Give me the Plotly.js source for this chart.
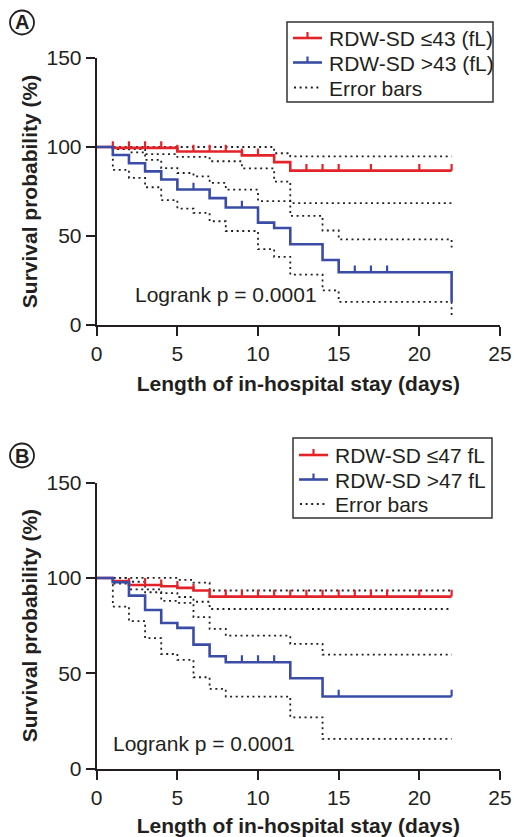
<!DOCTYPE html>
<html>
<head>
<meta charset="utf-8">
<script src="https://cdn.plot.ly/plotly-3.0.1.min.js"></script>
<style>html,body{margin:0;padding:0;background:#fff;}#chart{width:514px;height:837px;}</style>
</head>
<body>
<div id="chart"></div>
<script>
// ---------- Panel A data (RDW-SD cut-off 43 fL) ----------
const daysA_low = [0, 1, 5, 9, 11, 12, 22];
const survA_low = [100, 99.5, 97.5, 95.3, 91.5, 86.7, 86.7];
const censA_low = [1, 2, 3, 4, 5, 6, 7, 8, 9, 10, 13, 14, 15, 17, 20, 22];

const daysA_high = [0, 1, 2, 3, 4, 5, 7, 8, 10, 11, 12, 14, 15, 22];
const survA_high = [100, 95.5, 90.9, 86.3, 81.7, 76.1, 71.3, 66, 57.5, 54.5, 45.4, 36.5, 29.6, 13];
const censA_high = [6, 9, 16, 17, 18];

const ciA_low_up_days = [0, 11, 12, 22];
const ciA_low_up = [100, 96.5, 94.7, 94.7];
const ciA_low_lo_days = [0, 1, 3, 5, 7, 9, 11, 12, 22];
const ciA_low_lo = [100, 98.8, 96, 94.4, 92, 88, 80.6, 68.5, 68.5];
const ciA_high_up_days = [0, 1, 2, 3, 4, 5, 6, 7, 8, 10, 12, 14, 15, 22];
const ciA_high_up = [100, 99, 97, 92.8, 88.1, 85.4, 83.5, 79.8, 76, 69.6, 61.3, 53.1, 48.1, 43.5];
const ciA_high_lo_days = [0, 1, 2, 3, 4, 5, 6, 7, 8, 10, 11, 12, 14, 15, 22];
const ciA_high_lo = [100, 87.2, 82.6, 77.4, 70.2, 65.4, 63, 58.3, 52.8, 42.6, 38.3, 28.3, 19.4, 13, 3.7];

// ---------- Panel B data (RDW-SD cut-off 47 fL) ----------
const daysB_low = [0, 1, 2, 4, 5, 6, 7, 22];
const survB_low = [100, 98.3, 96.3, 95.6, 94.8, 93.4, 90.2, 90.2];
const censB_low = [2, 3, 4, 5, 6, 8, 9, 10, 11, 12, 13, 14, 15, 16, 17, 18, 20, 22];

const daysB_high = [0, 1, 2, 3, 4, 5, 6, 7, 8, 12, 14, 22];
const survB_high = [100, 97.7, 90.7, 83.2, 76.4, 73.8, 65, 58.9, 55.8, 47.4, 37.8, 37.8];
const censB_high = [9, 10, 11, 15, 22];

const ciB_low_up_days = [0, 5, 6, 7, 22];
const ciB_low_up = [100, 99, 97.5, 93.4, 93.4];
const ciB_low_lo_days = [0, 1, 2, 4, 5, 6, 7, 22];
const ciB_low_lo = [100, 97, 94, 92, 90, 87.5, 83.7, 83.7];
const ciB_high_up_days = [0, 2, 3, 4, 5, 6, 7, 8, 12, 14, 22];
const ciB_high_up = [100, 98, 92.5, 88, 86.9, 79.4, 73.3, 69.7, 65.4, 59.8, 59.8];
const ciB_high_lo_days = [0, 1, 2, 3, 4, 5, 6, 7, 8, 12, 14, 22];
const ciB_high_lo = [100, 85, 77.3, 68.4, 60.1, 57, 47.9, 41.8, 37.8, 26.9, 15.6, 15.6];

// ---------- Labels ----------
const legendA = ['RDW-SD ≤43 (fL)', 'RDW-SD >43 (fL)', 'Error bars'];
const legendB = ['RDW-SD ≤47 fL', 'RDW-SD >47 fL', 'Error bars'];
const logrankText = 'Logrank p = 0.0001';
const xTitle = 'Length of in-hospital stay (days)';
const yTitle = 'Survival probability (%)';
const xTicks = [0, 5, 10, 15, 20, 25];
const yTicks = [0, 50, 100, 150];

// ---------- Styles ----------
const RED = '#e3232a';
const BLUE = '#3a4ca6';
const INK = '#231f20';
const FONT = 'Arial, "Liberation Sans", Helvetica, sans-serif';
const FS = 21;
const DOT = '2px,3.6px';
const W = 514, H = 837;
const px = v => v / W;
const py = v => 1 - v / H;

function valueAt(days, vals, t) {
  let v = vals[0];
  for (let i = 0; i < days.length; i++) if (days[i] <= t) v = vals[i];
  return v;
}
function censorSegs(times, days, vals, h) {
  const x = [], y = [];
  times.forEach(t => { const v = valueAt(days, vals, t); x.push(t, t, null); y.push(v, v + h, null); });
  return {x, y};
}

const traces = [];
function addPanel(xa, ya, d) {
  d.ci.forEach(c => traces.push({
    type: 'scatter', mode: 'lines', x: c[0], y: c[1], xaxis: xa, yaxis: ya,
    line: {shape: 'hv', color: INK, width: 1.8, dash: DOT}, showlegend: false, hoverinfo: 'skip'
  }));
  [[d.low, RED], [d.high, BLUE]].forEach(([s, col]) => {
    traces.push({
      type: 'scatter', mode: 'lines', x: s[0], y: s[1], xaxis: xa, yaxis: ya,
      line: {shape: 'hv', color: col, width: 2.6}, showlegend: false
    });
    const seg = censorSegs(s[2], s[0], s[1], d.tick);
    traces.push({
      type: 'scatter', mode: 'lines', x: seg.x, y: seg.y, xaxis: xa, yaxis: ya,
      line: {color: col, width: 2.2}, showlegend: false, hoverinfo: 'skip'
    });
  });
}
addPanel('x', 'y', {
  low: [daysA_low, survA_low, censA_low], high: [daysA_high, survA_high, censA_high], tick: 3.8,
  ci: [[ciA_low_up_days, ciA_low_up], [ciA_low_lo_days, ciA_low_lo], [ciA_high_up_days, ciA_high_up], [ciA_high_lo_days, ciA_high_lo]]
});
addPanel('x2', 'y2', {
  low: [daysB_low, survB_low, censB_low], high: [daysB_high, survB_high, censB_high], tick: 3.6,
  ci: [[ciB_low_up_days, ciB_low_up], [ciB_low_lo_days, ciB_low_lo], [ciB_high_up_days, ciB_high_up], [ciB_high_lo_days, ciB_high_lo]]
});

const xDom = [px(96.7), px(500)];
function xax(anchor) {
  return {
    domain: xDom, anchor: anchor, range: [0, 25], tickvals: xTicks, ticktext: xTicks.map(String),
    showline: true, linecolor: INK, linewidth: 2, ticks: 'outside', ticklen: 9, tickwidth: 2, tickcolor: INK,
    showgrid: false, zeroline: false, tickfont: {family: FONT, size: FS, color: INK},
    title: {text: '<b>' + xTitle + '</b>', font: {family: FONT, size: FS, color: INK}, standoff: 12},
    fixedrange: true
  };
}
function yax(anchor, dom) {
  return {
    domain: dom, anchor: anchor, range: [0, 150], tickvals: yTicks, ticktext: yTicks.map(String),
    showline: true, linecolor: INK, linewidth: 2, ticks: 'outside', ticklen: 9, tickwidth: 2, tickcolor: INK,
    showgrid: false, zeroline: false, tickfont: {family: FONT, size: FS, color: INK},
    title: {text: '<b>' + yTitle + '</b>', font: {family: FONT, size: FS, color: INK}, standoff: 3},
    fixedrange: true
  };
}

// ---------- hand-built legends (box, symbols, labels) ----------
const shapes = [], annotations = [];
function legendBox(box, rows, labels) {
  shapes.push({type: 'rect', xref: 'paper', yref: 'paper', x0: px(box[0]), x1: px(box[1]),
    y0: py(box[3]), y1: py(box[2]), line: {color: '#333', width: 1.5}, fillcolor: '#fff', layer: 'above'});
  const sx0 = box[0] + 6, sx1 = box[0] + 35, tx = box[0] + 40;
  const cols = [RED, BLUE];
  rows.forEach((ry, i) => {
    if (i < 2) {
      shapes.push({type: 'line', xref: 'paper', yref: 'paper', x0: px(sx0), x1: px(sx1), y0: py(ry), y1: py(ry),
        line: {color: cols[i], width: 2.6}, layer: 'above'});
      const tk = (sx0 + sx1) / 2;
      shapes.push({type: 'line', xref: 'paper', yref: 'paper', x0: px(tk), x1: px(tk), y0: py(ry), y1: py(ry - 6),
        line: {color: cols[i], width: 2.2}, layer: 'above'});
    } else {
      shapes.push({type: 'line', xref: 'paper', yref: 'paper', x0: px(sx0 + 1), x1: px(sx1), y0: py(ry), y1: py(ry),
        line: {color: INK, width: 1.8, dash: DOT}, layer: 'above'});
    }
    annotations.push({xref: 'paper', yref: 'paper', x: px(tx), y: py(ry + 0.5), xanchor: 'left', yanchor: 'middle',
      text: labels[i], showarrow: false, font: {family: FONT, size: FS, color: INK}});
  });
}
legendBox([287, 493, 22, 102], [38, 62.5, 87.5], legendA);
legendBox([293, 492, 438, 518], [455, 479.5, 504], legendB);

function circleLabel(cx, cy, letter) {
  shapes.push({type: 'circle', xref: 'paper', yref: 'paper', x0: px(cx - 12), x1: px(cx + 12),
    y0: py(cy + 12), y1: py(cy - 12), line: {color: INK, width: 1.8}});
  annotations.push({xref: 'paper', yref: 'paper', x: px(cx), y: py(cy), xanchor: 'center', yanchor: 'middle',
    text: '<b>' + letter + '</b>', showarrow: false, font: {family: FONT, size: 20, color: INK}});
}
circleLabel(22, 22.5, 'A');
circleLabel(22, 455.5, 'B');

annotations.push(
  {xref: 'x', yref: 'y', x: 2.25, y: 17, xanchor: 'left', yanchor: 'middle', text: logrankText,
    showarrow: false, font: {family: FONT, size: FS, color: INK}},
  {xref: 'x2', yref: 'y2', x: 0.9, y: 13.4, xanchor: 'left', yanchor: 'middle', text: logrankText,
    showarrow: false, font: {family: FONT, size: FS, color: INK}}
);

const layout = {
  width: W, height: H, margin: {l: 0, r: 0, t: 0, b: 0}, paper_bgcolor: '#fff', plot_bgcolor: '#fff',
  font: {family: FONT, color: INK},
  xaxis: xax('y'), yaxis: yax('x', [py(325), py(58)]),
  xaxis2: xax('y2'), yaxis2: yax('x2', [py(768.6), py(482.6)]),
  shapes: shapes, annotations: annotations, showlegend: false
};
Plotly.newPlot('chart', traces, layout, {staticPlot: true, displayModeBar: false});
</script>
</body>
</html>
